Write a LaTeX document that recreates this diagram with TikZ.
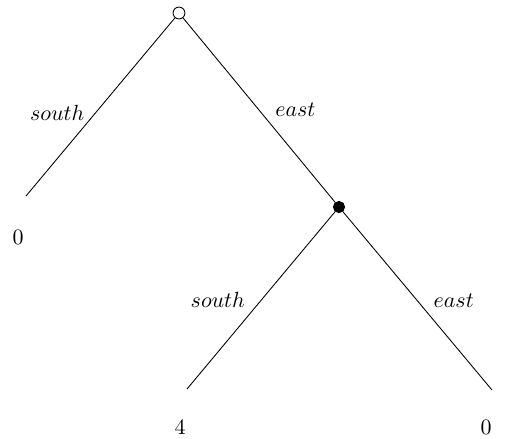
\documentclass[tikz,border=0pt]{standalone}
\usetikzlibrary{positioning}

\begin{document}
\begin{tikzpicture}[
  x=0.016cm, y=-0.016cm,
  decision/.style = {circle, draw, thin, inner sep=0pt, minimum size=0.19cm},
  chance/.style   = {circle, draw, fill=black, inner sep=0pt, minimum size=0.18cm},
  move/.style     = {thin},
  lbl/.style      = {font=\normalsize, inner sep=1.5pt},
  payoff/.style   = {font=\normalsize, inner sep=1pt},
]
  \useasboundingbox (0,0) rectangle (505,438);

  % tree: root on top, one inner node on the right branch
  \node[decision] (root) at (179,13) {};
  \node[chance] (inner) at (339,207) {};
  \coordinate (leafS) at (26,196);
  \coordinate (leafES) at (187,389);
  \coordinate (leafEE) at (492,390);

  % payoffs under the leaves
  \node[payoff] (payS) at (18,237) {0};
  \node[payoff] (payES) at (180,427) {4};
  \node[payoff] (payEE) at (486,427) {0};

  \draw[move] (root) -- node[lbl, left=2mm, yshift=-1mm] {$south$} (leafS);
  \draw[move] (root) -- node[lbl, right=2mm] {$east$} (inner);
  \draw[move] (inner) -- node[lbl, left=2mm] {$south$} (leafES);
  \draw[move] (inner) -- node[lbl, right=2mm] {$east$} (leafEE);
\end{tikzpicture}
\end{document}
